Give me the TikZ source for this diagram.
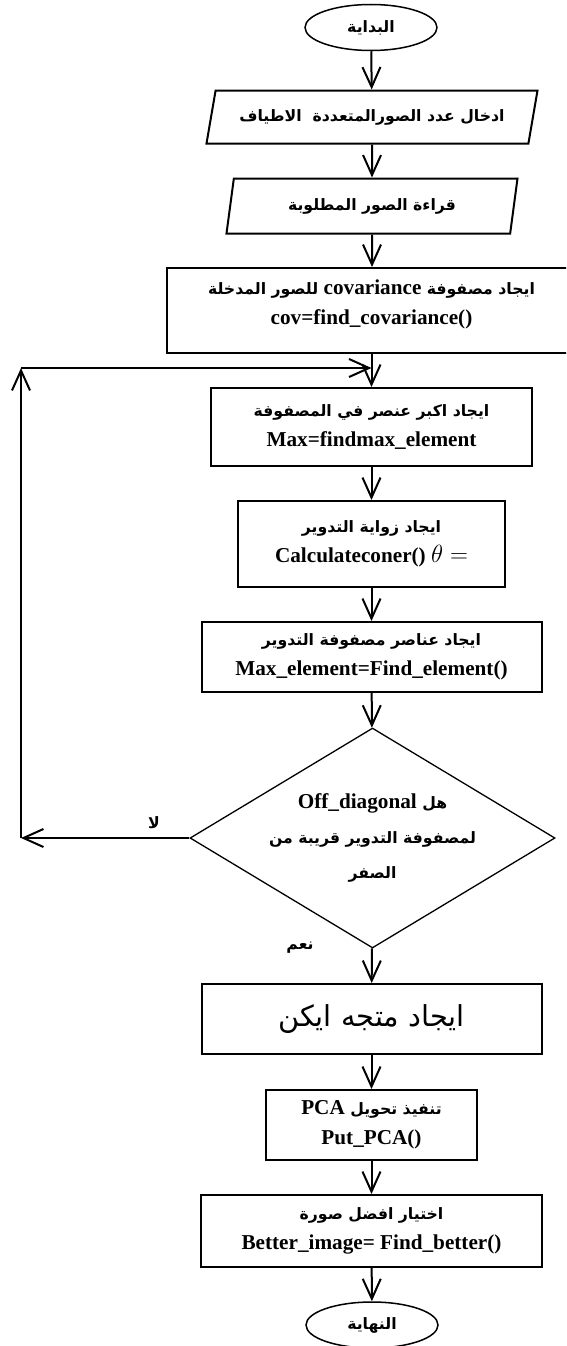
\documentclass[tikz,border=0pt]{standalone}
\usepackage{fontspec}
\setmainfont{Liberation Serif}
\newfontfamily\arfont[Script=Arabic,Scale=0.74]{DejaVu Sans}
\usetikzlibrary{shapes.geometric,arrows.meta}
\TeXXeTstate=1
\newcommand{\ar}[1]{\beginR{\arfont\bfseries #1}\endR}
\newcommand{\lat}[1]{\beginL{\rmfamily\bfseries #1}\endL}

\begin{document}
\begin{tikzpicture}[x=1pt,y=-1pt,
  box/.style={draw, line width=2pt, rectangle, inner sep=0pt, align=center},
  io/.style={draw, line width=2pt, trapezium, trapezium stretches body, inner sep=0pt, align=center},
  term/.style={draw, line width=1.5pt, ellipse, minimum width=132pt, minimum height=46pt, inner sep=0pt},
  arr/.style={line width=2pt, -{Straight Barb[length=20pt,width=18pt]}},
  font=\fontsize{21.2}{30}\selectfont]
\clip (0,0) rectangle (566,1346);
% terminals
\node[term] (start) at (371,27.5) {\ar{البداية}};
\node[term] (stop) at (372,1325) {\ar{النهاية}};
% input
\node[io, trapezium left angle=60, trapezium right angle=120, minimum width=331pt, minimum height=53pt] (in1) at (372,117) {\ar{ادخال عدد الصورالمتعددة\ \ الاطياف}};
\node[io, trapezium left angle=65, trapezium right angle=115, minimum width=291pt, minimum height=55pt] (in2) at (372,206) {\ar{قراءة الصور المطلوبة}};
% process
\node[box, minimum width=433pt, minimum height=85pt] (cov) at (383.5,310.5) {};
\node[align=center] (covtext) at (371.5,304) {\ar{ايجاد مصفوفة \lat{covariance} للصور المدخلة}\\\textbf{cov=find\_covariance()}};
\node[box, minimum width=321pt, minimum height=78pt] (maxel) at (371.5,427) {\ar{ايجاد اكبر عنصر في المصفوفة}\\\textbf{Max=findmax\_element}};
\node[box, minimum width=267pt, minimum height=86pt] (theta) at (371.5,544) {\ar{ايجاد زواية التدوير}\\\textbf{Calculateconer()} {\fontsize{31}{30}\selectfont$\theta =$}};
\node[box, minimum width=340pt, minimum height=70pt] (rot) at (371.5,657) {\ar{ايجاد عناصر مصفوفة التدوير}\\\textbf{Max\_element=Find\_element()}};
% decision
\node[draw, diamond, aspect=1.66, line width=1.3pt, minimum width=365pt, minimum height=220pt, inner sep=0pt, align=center, font=\fontsize{21.2}{35}\selectfont] (dec) at (372.5,838) {\ar{هل \lat{Off\_diagonal}}\\\ar{لمصفوفة التدوير قريبة من}\\\ar{الصفر}};
\node (no) at (154,823) {\ar{لا}};
\node (yes) at (300,948) {\ar{نعم}};
\node[box, minimum width=340pt, minimum height=70pt] (eig) at (371.5,1019) {\beginR{\arfont\fontsize{39}{44}\selectfont ايجاد متجه ايكن}\endR};
\node[box, minimum width=211pt, minimum height=70pt] (pca) at (371.5,1125) {\ar{تنفيذ تحويل \lat{PCA}}\\\textbf{Put\_PCA()}};
\node[box, minimum width=341pt, minimum height=72pt] (better) at (371.5,1231) {\ar{اختيار افضل صورة}\\\textbf{Better\_image= Find\_better()}};
% arrows
\draw[arr] (start) -- (in1);
\draw[arr] (in1) -- (in2);
\draw[arr] (in2) -- (in2.south |- cov.north);
\draw[arr] (covtext |- cov.south) -- (maxel);
\draw[arr] (maxel) -- (theta);
\draw[arr] (theta) -- (rot);
\draw[arr] (rot) -- (dec);
\draw[arr] (dec) -- (eig);
\draw[arr] (eig) -- (pca);
\draw[arr] (pca) -- (better);
\draw[arr] (better) -- (stop);
% loop back
\coordinate (lpb) at (21,838);
\coordinate (lpt) at (21,368);
\draw[arr] (dec.west) -- (lpb);
\draw[arr] (lpb) -- (lpt);
\draw[arr] (lpt) -- (maxel.north |- lpt);
\end{tikzpicture}
\end{document}
